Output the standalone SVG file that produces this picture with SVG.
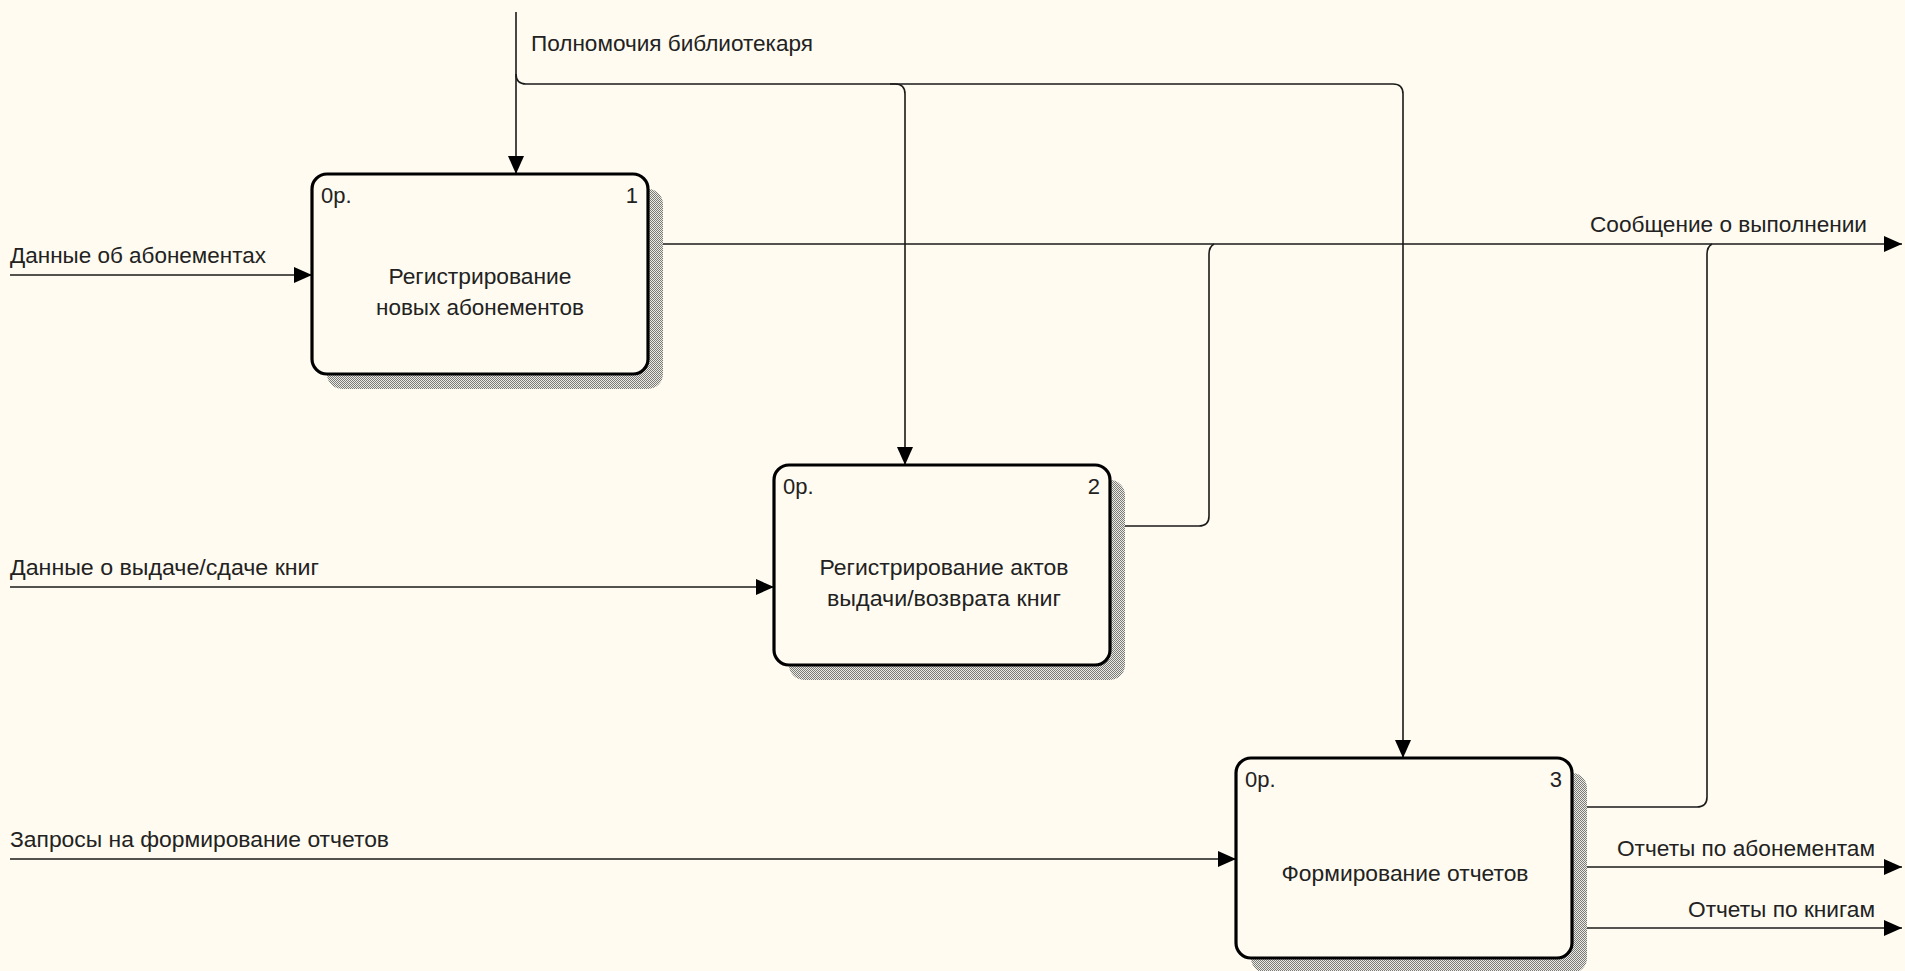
<svg xmlns="http://www.w3.org/2000/svg" width="1905" height="971" viewBox="0 0 1905 971">
<style>
.lbl{font-family:"Liberation Sans",Arial,sans-serif;font-size:22px;fill:#222}
.box{fill:#FFFBF0;stroke:#000;stroke-width:3.2}
.shadow{fill:url(#hatch)}
.arr{fill:none;stroke:#1a1a1a;stroke-width:1.6}
.end{text-anchor:end}
.mid{text-anchor:middle}
</style>
<defs>
<pattern id="hatch" width="2" height="2" patternUnits="userSpaceOnUse">
<rect width="2" height="2" fill="#ecebe2"/>
<rect x="0" y="0" width="1" height="1" fill="#7a7a7a"/>
<rect x="1" y="1" width="1" height="1" fill="#7a7a7a"/>
</pattern>
<marker id="ah" markerUnits="userSpaceOnUse" markerWidth="18" markerHeight="16" refX="18" refY="8" orient="auto">
<path d="M0,0 L18,8 L0,16 z" fill="#000"/>
</marker>
</defs>
<rect width="1905" height="971" fill="#FFFBF0"/>

<g id="connectors">
<path class="arr" d="M516,12 V174" marker-end="url(#ah)"/>
<path class="arr" d="M516,74 Q516,84 526,84 H895 Q905,84 905,94 V465" marker-end="url(#ah)"/>
<path class="arr" d="M890,84 H1393 Q1403,84 1403,94 V758" marker-end="url(#ah)"/>
<path class="arr" d="M10,275 H312" marker-end="url(#ah)"/>
<path class="arr" d="M10,587 H774" marker-end="url(#ah)"/>
<path class="arr" d="M10,859 H1236" marker-end="url(#ah)"/>
<path class="arr" d="M648,244 H1902" marker-end="url(#ah)"/>
<path class="arr" d="M1110,526 H1199 Q1209,526 1209,516 V254 Q1209,247 1214,244"/>
<path class="arr" d="M1572,807 H1697 Q1707,807 1707,797 V254 Q1707,247 1712,244"/>
<path class="arr" d="M1572,867 H1902" marker-end="url(#ah)"/>
<path class="arr" d="M1572,928 H1902" marker-end="url(#ah)"/>
<text class="lbl" x="531" y="51" textLength="282" lengthAdjust="spacingAndGlyphs">Полномочия библиотекаря</text>
<text class="lbl" x="10" y="263" textLength="256" lengthAdjust="spacingAndGlyphs">Данные об абонементах</text>
<text class="lbl" x="10" y="575" textLength="309" lengthAdjust="spacingAndGlyphs">Данные о выдаче/сдаче книг</text>
<text class="lbl" x="10" y="847" textLength="379" lengthAdjust="spacingAndGlyphs">Запросы на формирование отчетов</text>
<text class="lbl end" x="1867" y="232" textLength="277" lengthAdjust="spacingAndGlyphs">Сообщение о выполнении</text>
<text class="lbl end" x="1875" y="856" textLength="258" lengthAdjust="spacingAndGlyphs">Отчеты по абонементам</text>
<text class="lbl end" x="1875" y="917" textLength="187" lengthAdjust="spacingAndGlyphs">Отчеты по книгам</text>
</g>

<g id="node1">
<rect class="shadow" x="327" y="189" width="336" height="200" rx="15"/>
<rect class="box" x="312" y="174" width="336" height="200" rx="15"/>
<text class="lbl" x="321" y="203">0р.</text>
<text class="lbl end" x="638" y="203">1</text>
<text class="lbl mid" x="480" y="284" textLength="183" lengthAdjust="spacingAndGlyphs">Регистрирование</text>
<text class="lbl mid" x="480" y="315" textLength="208" lengthAdjust="spacingAndGlyphs">новых абонементов</text>
</g>

<g id="node2">
<rect class="shadow" x="789" y="480" width="336" height="200" rx="15"/>
<rect class="box" x="774" y="465" width="336" height="200" rx="15"/>
<text class="lbl" x="783" y="494">0р.</text>
<text class="lbl end" x="1100" y="494">2</text>
<text class="lbl mid" x="944" y="575" textLength="249" lengthAdjust="spacingAndGlyphs">Регистрирование актов</text>
<text class="lbl mid" x="944" y="606" textLength="234" lengthAdjust="spacingAndGlyphs">выдачи/возврата книг</text>
</g>

<g id="node3">
<rect class="shadow" x="1251" y="773" width="336" height="200" rx="15"/>
<rect class="box" x="1236" y="758" width="336" height="200" rx="15"/>
<text class="lbl" x="1245" y="787">0р.</text>
<text class="lbl end" x="1562" y="787">3</text>
<text class="lbl mid" x="1405" y="881" textLength="247" lengthAdjust="spacingAndGlyphs">Формирование отчетов</text>
</g>
</svg>
